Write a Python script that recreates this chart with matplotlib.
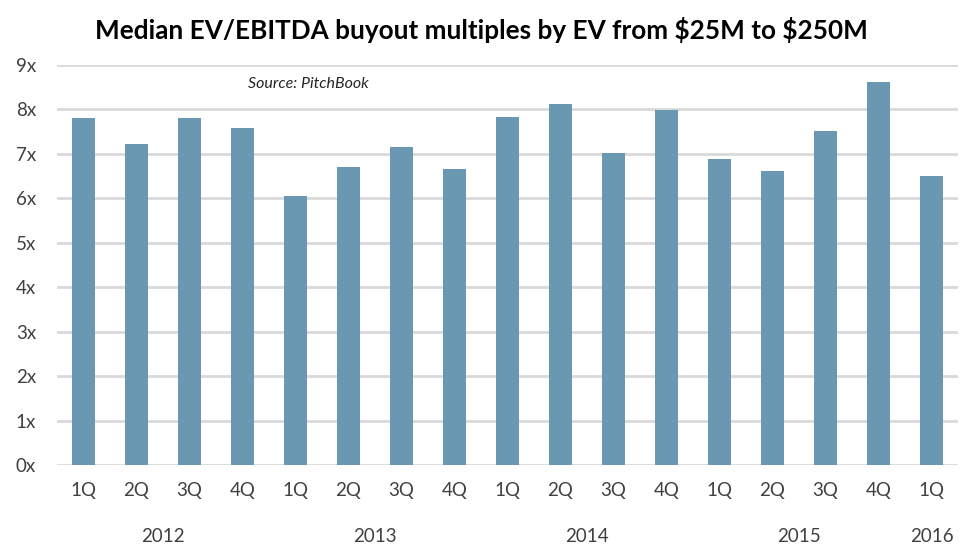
import matplotlib
matplotlib.use("Agg")
import matplotlib.pyplot as plt
import matplotlib.transforms as mtransforms

quarters = ["1Q", "2Q", "3Q", "4Q", "1Q", "2Q", "3Q", "4Q", "1Q", "2Q", "3Q", "4Q",
            "1Q", "2Q", "3Q", "4Q", "1Q"]
values = [7.81, 7.22, 7.81, 7.58, 6.05, 6.70, 7.15, 6.65, 7.82, 8.12, 7.01, 7.98,
          6.88, 6.61, 7.51, 8.61, 6.50]
years = ["2012", "2013", "2014", "2015", "2016"]
year_pos = [1.5, 5.5, 9.5, 13.5, 16]
yticks = [0, 1, 2, 3, 4, 5, 6, 7, 8, 9]
ytick_labels = [f"{v}x" for v in yticks]

plt.rcParams['font.family'] = ['Lato', 'DejaVu Sans']

fig = plt.figure(figsize=(9.65, 5.55), dpi=100)
ax = fig.add_axes([57/965, 1-465/555, (958-57)/965, (465-64.7)/555])

x = list(range(len(values)))
ax.bar(x, values, width=0.42, color="#6A98B3", zorder=3)

ax.set_xlim(-0.5, len(values)-0.5)
ax.set_ylim(0, 9)
ax.set_yticks(yticks)
ax.set_yticklabels(ytick_labels, fontsize=13.5, color="#404040")
ax.set_xticks(x)
ax.set_xticklabels(quarters, fontsize=13.5, color="#404040")
ax.tick_params(axis='both', length=0)
ax.tick_params(axis='x', pad=12)
ax.tick_params(axis='y', pad=15)

ax.grid(axis='y', color="#D9D9D9", linewidth=2, zorder=0)
for s in ax.spines.values():
    s.set_visible(False)

trans = mtransforms.blended_transform_factory(ax.transData, fig.transFigure)
for yr, p in zip(years, year_pos):
    ax.text(p, 1-537/555, yr, transform=trans, ha='center', va='center',
            fontsize=13.5, color="#404040")

fig.text(481/965, 1-30/555, r"Median EV/EBITDA buyout multiples by EV from \$25M to \$250M",
         ha='center', va='center', fontsize=18.8, fontweight='bold', color="black")
fig.text(248/965, 1-84/555, "Source: PitchBook",
         ha='left', va='center', fontsize=11.5, style='italic', color="#262626")

fig.savefig("out.png", dpi=100)
